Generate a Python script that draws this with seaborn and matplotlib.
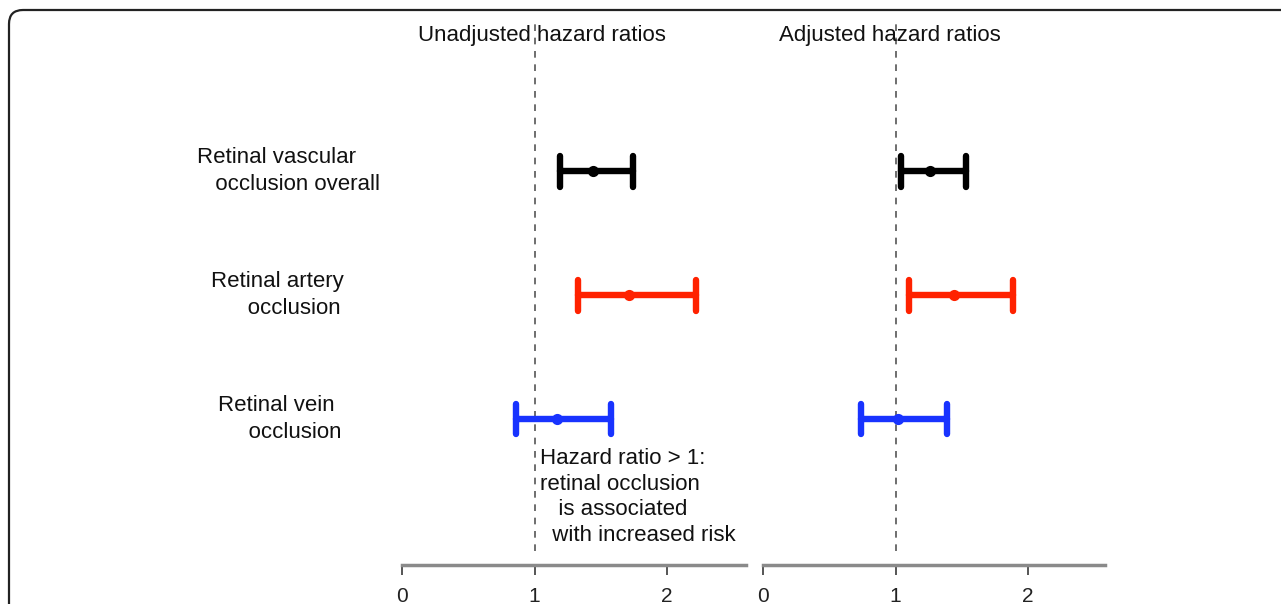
import pandas as pd
import matplotlib
matplotlib.use("Agg")
import matplotlib.pyplot as plt
import matplotlib.transforms as mtransforms
from matplotlib.patches import FancyBboxPatch
import seaborn as sns

# data
outcomes = ["vascular", "artery", "vein"]
row_labels = ["Retinal vascular\n   occlusion overall",
              "Retinal artery\n      occlusion",
              "Retinal vein\n     occlusion"]
colors = ["#000000", "#ff2200", "#1833ff"]

unadj_est = [1.44, 1.71, 1.17]
unadj_lo = [1.19, 1.33, 0.86]
unadj_hi = [1.74, 2.22, 1.58]

adj_est = [1.26, 1.44, 1.02]
adj_lo = [1.04, 1.10, 0.74]
adj_hi = [1.53, 1.89, 1.39]

panel_titles = ["Unadjusted hazard ratios", "Adjusted hazard ratios"]
xticks = [0, 1, 2]
note = "Hazard ratio > 1:\nretinal occlusion\n   is associated\n  with increased risk"


def long_table(lo, est, hi):
    rows = []
    for name, a, b, c in zip(outcomes, lo, est, hi):
        for v in (a, b, c):
            rows.append({"outcome": name, "hr": v})
    return pd.DataFrame(rows)


sns.set_style("white")
plt.rcParams["font.family"] = ["Liberation Sans", "DejaVu Sans"]
plt.rcParams["font.size"] = 16

W, H = 1281, 604
fig = plt.figure(figsize=(W / 100, H / 100), dpi=100)

# frame with rounded corner, runs off right and bottom edges
frame = FancyBboxPatch((9, -30), 1400, H - 10 + 30,
                       boxstyle="round,pad=0,rounding_size=14",
                       transform=mtransforms.IdentityTransform(),
                       facecolor="none", edgecolor="#222222", linewidth=1.6)
fig.patches.append(frame)

axes_px = [(402, 746), (763, 1105)]
top_px, bottom_px = 20, 565
px_per_unit = 132.5
row_px = [171, 295, 419]
row_step = row_px[1] - row_px[0]

tables = [long_table(unadj_lo, unadj_est, unadj_hi),
          long_table(adj_lo, adj_est, adj_hi)]

axes = []
for (x0, x1), df, title in zip(axes_px, tables, panel_titles):
    ax = fig.add_axes([x0 / W, (H - bottom_px) / H, (x1 - x0) / W,
                       (bottom_px - top_px) / H])
    ax.set_facecolor("none")
    sns.pointplot(data=df, x="hr", y="outcome", hue="outcome",
                  order=outcomes, hue_order=outcomes, palette=colors,
                  estimator="median", errorbar=("pi", 100), capsize=0.25,
                  linestyle="none", markers="o", markersize=6,
                  err_kws={"linewidth": 4.6, "solid_capstyle": "round"},
                  legend=False, ax=ax)
    ax.set_xlim(0, (x1 - x0) / px_per_unit)
    ylo = 2 + (bottom_px - row_px[2]) / row_step
    yhi = 0 - (row_px[0] - top_px) / row_step
    ax.set_ylim(ylo, yhi)
    ax.axvline(1, ymin=0.025, ymax=1, color="#555555", linewidth=1.2,
               linestyle=(0, (4, 4)), zorder=0)
    ax.set_xticks(xticks)
    ax.set_xticklabels([str(t) for t in xticks])
    ax.set_yticks([])
    ax.set_xlabel("")
    ax.set_ylabel("")
    for s in ["top", "right", "left"]:
        ax.spines[s].set_visible(False)
    ax.spines["bottom"].set_color("#8a8a8a")
    ax.spines["bottom"].set_linewidth(2.5)
    ax.tick_params(axis="x", bottom=True, direction="out", length=7,
                   width=1.4, color="#555555", pad=9, labelsize=15,
                   labelcolor="#222222")
    axes.append(ax)

fig.text(542 / W, 1 - 35 / H, panel_titles[0], ha="center", va="center",
         fontsize=16, color="#111111")
fig.text(890 / W, 1 - 35 / H, panel_titles[1], ha="center", va="center",
         fontsize=16, color="#111111")

# row labels on the left
label_x = [197, 211, 218]
lab_tr = mtransforms.blended_transform_factory(fig.transFigure, axes[0].transData)
for i, (lab, lx) in enumerate(zip(row_labels, label_x)):
    fig.text(lx / W, i, lab, transform=lab_tr, ha="left", va="center",
             fontsize=16, linespacing=1.32, color="#111111")

fig.text(540 / W, 1 - 497 / H, note, ha="left", va="center",
         fontsize=16, linespacing=1.3, color="#111111")

fig.savefig("out.png", dpi=100, facecolor="white")
